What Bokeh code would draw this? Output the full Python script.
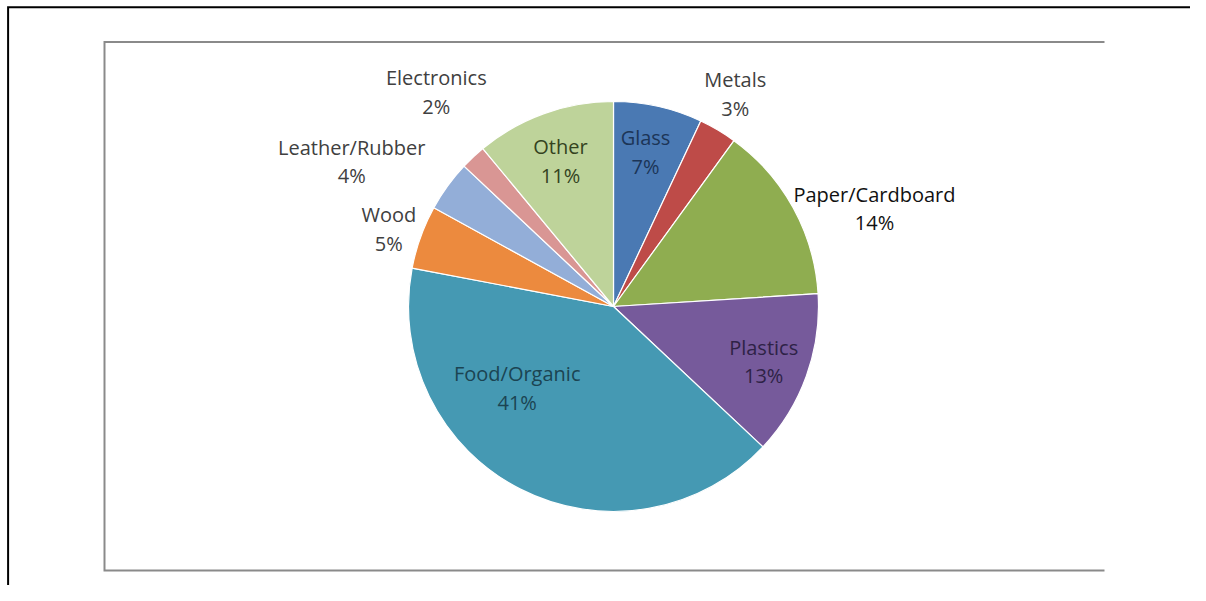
import math
from bokeh.plotting import figure
from bokeh.models import Range1d, ColumnDataSource
from bokeh.core.properties import value
from bokeh.embed import file_html
from bokeh.resources import INLINE

# ---- data ----
categories = ["Glass", "Metals", "Paper/Cardboard", "Plastics", "Food/Organic",
              "Wood", "Leather/Rubber", "Electronics", "Other"]
shares = [7, 3, 14, 13, 41, 5, 4, 2, 11]

# ---- styles ----
slice_colors = ["#4a79b3", "#be4b48", "#8fad50", "#765a9b", "#4599b3",
                "#ec8a3e", "#93aed8", "#d99694", "#bed39a"]
label_colors = ["#1c3557", "#404040", "#111111", "#2e2246", "#1b4452",
                "#404040", "#404040", "#404040", "#34431f"]

# ---- layout (screen pixel coordinates, y measured from the top) ----
W, H = 1190, 585
cx, cy, R = 613, H - 306, 205
lab_rf = [0.77, 1.195, 1.36, 0.78, 0.615, 1.16, 1.46, 1.356, 0.756]
lab_dang = [-0.9, -0.8, 8.2, 0.3, 22.8, -0.7, -7.0, 3.6, -0.2]

total = float(sum(shares))
starts, ends, lx, ly, texts = [], [], [], [], []
cum = 0.0
for i, s in enumerate(shares):
    a0 = math.pi / 2 - 2 * math.pi * cum / total
    mid = (cum + s / 2.0) / total * 360.0
    cum += s
    a1 = math.pi / 2 - 2 * math.pi * cum / total
    starts.append(a0)
    ends.append(a1)
    th = math.radians(mid + lab_dang[i])
    lx.append(cx + lab_rf[i] * R * math.sin(th))
    ly.append(cy + lab_rf[i] * R * math.cos(th))
    texts.append(f"{categories[i]}\n{shares[i]}%")

src = ColumnDataSource(dict(start=starts, end=ends, color=slice_colors,
                            lx=lx, ly=ly, label=texts, tcolor=label_colors))

p = figure(width=W, height=H, x_range=Range1d(0, W), y_range=Range1d(0, H),
           output_backend="svg", toolbar_location=None, min_border=0)
p.axis.visible = False
p.grid.visible = False
p.outline_line_color = None
p.background_fill_color = "white"
p.border_fill_color = "white"

# outer black border (top, left)
bx, by = 7.6, H - 6.7
p.line(x=[W + 5, bx, bx], y=[by, by, -5], line_color="black", line_width=2,
       line_join="miter")

# inner chart frame (left, top, bottom)
fl, fr, ft, fb = 104, 1104, H - 41.5, H - 570
p.line(x=[fr, fl, fl, fr], y=[ft, ft, fb, fb], line_color="#8a8a8a", line_width=2,
       line_join="miter")

p.wedge(x=cx, y=cy, radius=R, start_angle="start", end_angle="end",
        direction="clock", fill_color="color", line_color="white", line_width=1.2,
        source=src)

p.text(x="lx", y="ly", text="label", text_align="center", text_baseline="middle",
       text_font=value("Open Sans"), text_font_size="20px", text_color="tcolor",
       text_line_height=1.065, source=src)

open("out.html", "w").write(file_html(p, INLINE))
